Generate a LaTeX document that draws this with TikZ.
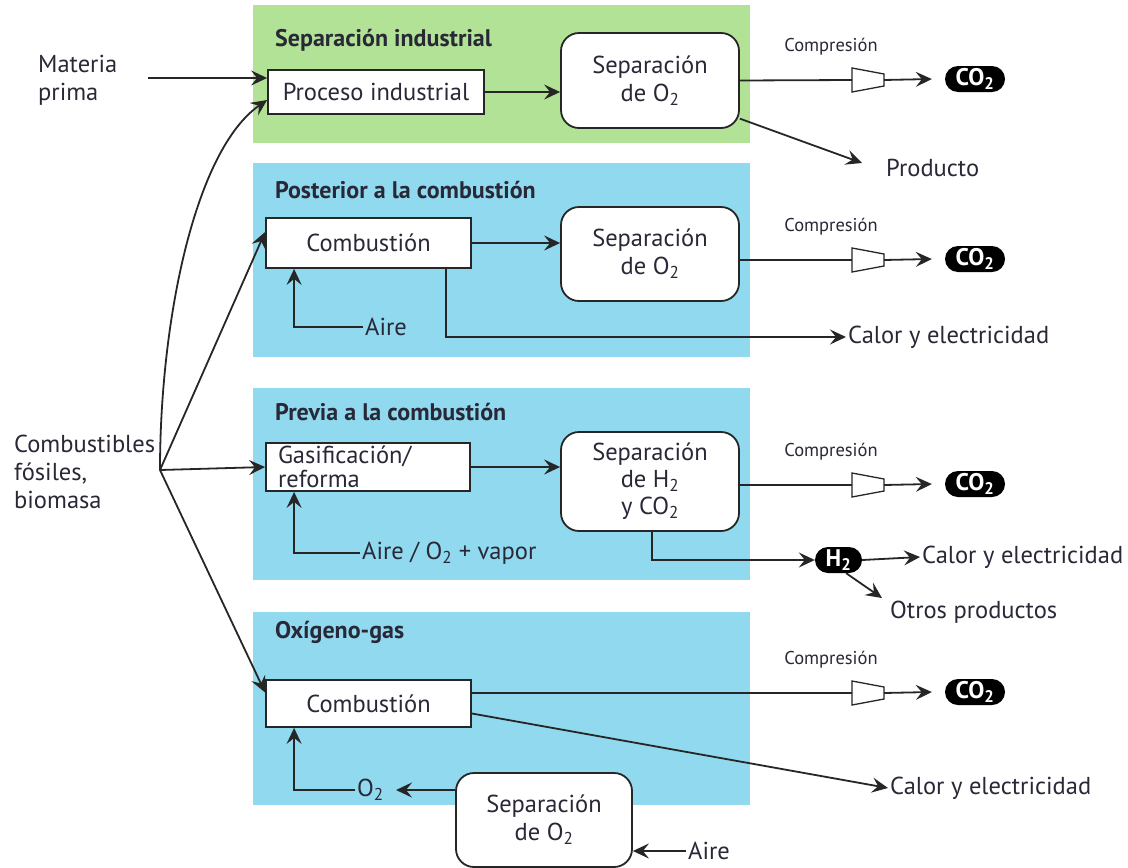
\documentclass[tikz,border=0pt]{standalone}
\usepackage{fontspec}
\setmainfont{PT Sans}
\usetikzlibrary{arrows.meta}
\definecolor{grn}{RGB}{178,226,150}
\definecolor{blu}{RGB}{144,217,238}
\definecolor{tx}{RGB}{40,40,55}
\tikzset{
  lbl/.style={text=tx,font=\fontsize{24.5}{28}\selectfont,inner sep=2pt},
  ttl/.style={text=tx,font=\fontsize{24}{26}\selectfont\bfseries,inner sep=0pt,anchor=west},
  cmp/.style={text=tx,font=\fontsize{18.5}{20}\selectfont,inner sep=0pt},
  sbox/.style={draw=black!85,fill=white,line width=1.8pt,inner sep=0pt,text=tx,
    font=\fontsize{24.5}{28}\selectfont,minimum width=#1},
  rbox/.style={sbox=178pt,rounded corners=18pt,align=center,font=\fontsize{24.5}{28}\selectfont},
  pill/.style={fill=black,text=white,rounded corners=13pt,inner sep=0pt,
    minimum height=26pt,minimum width=#1,font=\fontsize{24}{24}\selectfont\bfseries},
  arr/.style={draw=black!85,line width=1.8pt,-{Stealth[length=16pt,width=15pt,inset=6pt]}},
  ln/.style={draw=black!85,line width=1.8pt},
  comp/.pic={\draw[draw=black!85,fill=white,line width=1.3pt] (0,-12) -- (32,-6) -- (32,6) -- (0,12) -- cycle;
    \coordinate (-in) at (0,0); \coordinate (-out) at (32,0);}
}
\begin{document}
\begin{tikzpicture}[x=1pt,y=-1pt]
\useasboundingbox (0,0) rectangle (1128,868);
% panels
\fill[grn] (253,5) rectangle (750,143);
\fill[blu] (253,163) rectangle (750,357);
\fill[blu] (253,388) rectangle (750,580);
\fill[blu] (253,612) rectangle (750,805);
\node[ttl] (t1) at (275,40) {Separación industrial};
\node[ttl] (t2) at (275,190) {Posterior a la combustión};
\node[ttl] (t3) at (275,412) {Previa a la combustión};
\node[ttl] (t4) at (275,632) {Oxígeno-gas};

% left texts
\node[lbl,anchor=west,align=left] (mp) at (36,80) {Materia\\prima};
\node[lbl,anchor=west,align=left] (cb) at (12,472) {Combustibles\\fósiles,\\biomasa};
\coordinate (mpo) at (148,78);
\coordinate (hub) at (160,470);

% boxes
\node[sbox=216pt,minimum height=44pt] (proc) at (376,92) {Proceso industrial};
\node[rbox,minimum height=95pt] (sepa) at (650,80.5) {Separación\\de O\textsubscript{2}};
\node[sbox=205pt,minimum height=50pt] (comb2) at (368.5,243) {Combustión};
\node[rbox,minimum height=94pt] (sepb) at (650,254) {Separación\\de O\textsubscript{2}};
\node[sbox=204pt,minimum height=48pt,align=left,text width=180pt,inner xsep=12pt,
  font=\fontsize{24.5}{24}\selectfont] (gasif) at (368,467) {Gasificación/\\reforma};
\node[rbox,minimum height=99pt,font=\fontsize{24.5}{27}\selectfont] (seph) at (650,481.5) {Separación\\de H\textsubscript{2}\\y CO\textsubscript{2}};
\node[sbox=205pt,minimum height=47pt] (comb4) at (368.5,703.5) {Combustión};
\node[rbox,sbox=176pt,minimum height=94pt] (sepc) at (544,820) {Separación\\de O\textsubscript{2}};

% compressors and outputs
\foreach \i/\y in {1/80,2/260,3/485,4/693}{
  \pic (c\i) at (852,\y) {comp};
  \node[cmp] (k\i) at (831,\y-33) {Compresión};
  \node[pill=60pt] (co\i) at (975,\y-1) {CO\textsubscript{2}};
  \draw[arr] (c\i-out) -- ([xshift=-13pt]co\i.west);
}

% other labels
\node[lbl,anchor=west] (prod) at (884,168) {Producto};
\coordinate (prodtip) at (862,163);
\node[lbl,anchor=west] (aire2) at (363,327) {Aire};
\node[lbl,anchor=west] (cal2) at (846,337) {Calor y electricidad};
\node[lbl,anchor=west] (aov) at (360,553) {Aire / O\textsubscript{2} + vapor};
\node[pill=47pt] (h2) at (838.5,560) {H\textsubscript{2}};
\node[lbl,anchor=west] (cal3) at (920,557) {Calor y electricidad};
\node[lbl,anchor=west] (otros) at (888,612) {Otros productos};
\coordinate (otip) at (882,598);
\node[lbl,anchor=west] (cal4) at (888,788) {Calor y electricidad};
\node[lbl,anchor=west] (o2) at (355,790) {O\textsubscript{2}};
\node[lbl,anchor=west] (airec) at (686,851) {Aire};

% inputs
\draw[arr] (mpo) -- ([yshift=14pt]proc.west);
\draw[arr] (hub) .. controls (160,320) and (195,150) .. ([yshift=-8pt]proc.west);
\draw[arr] (hub) -- ([yshift=11pt]comb2.west);
\draw[arr] (hub) -- (gasif.west);
\draw[arr] (hub) -- ([yshift=11pt]comb4.west);

% row 1
\draw[arr] (proc.east) -- (proc.east -| sepa.west);
\draw[ln] (sepa.east) -- (c1-in);
\draw[arr] (sepa.-23) -- (prodtip);

% row 2
\draw[arr] (comb2.east) -- (comb2.east -| sepb.west);
\draw[ln] ([yshift=-6pt]sepb.east) -- (c2-in);
\draw[arr] (aire2.west) -| ([xshift=29pt]comb2.south west);
\draw[arr] ([xshift=-26pt]comb2.south east) |- (cal2.west);

% row 3
\draw[arr] (gasif.east) -- (gasif.east -| seph.west);
\draw[ln] ([yshift=-3.5pt]seph.east) -- (c3-in);
\draw[arr] (aov.west) -| ([xshift=29pt]gasif.south west);
\draw[arr] ([xshift=2pt]seph.south) |- (h2.west);
\draw[arr] (h2.east) -- (cal3.west);
\draw[arr] (h2.-60) -- (otip);

% row 4
\draw[ln] ([yshift=10.5pt]comb4.east) -- (c4-in);
\draw[arr] ([yshift=-10pt]comb4.east) -- (cal4.west);
\draw[arr] (sepc.west |- o2.east) -- ([xshift=10pt]o2.east);
\draw[arr] (o2.west) -| ([xshift=29pt]comb4.south west);
\draw[arr] (airec.west) -- (airec.west -| sepc.east);
\end{tikzpicture}
\end{document}
